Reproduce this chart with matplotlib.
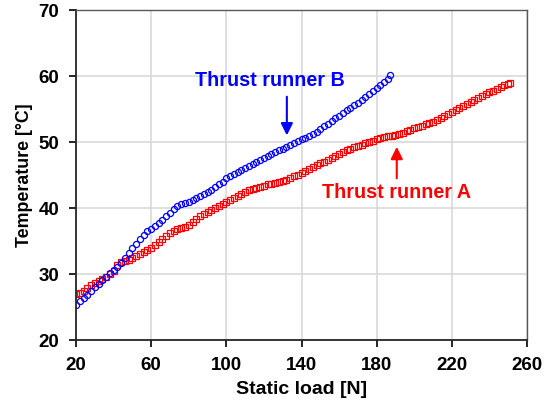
import matplotlib
matplotlib.use('Agg')
from matplotlib import pyplot as plt

plt.rcParams['font.family'] = ['Liberation Sans', 'DejaVu Sans']

# Thrust runner B (open circles)
load_b = [20, 22, 24, 26, 28, 30, 32, 34, 36, 38, 40, 42, 44, 46, 48, 50,
          52, 54, 56, 58, 60, 62, 64, 66, 68, 70, 72, 74, 76, 78, 80, 82,
          84, 86, 88, 90, 92, 94, 96, 98, 100, 102, 104, 106, 108, 110, 112,
          114, 116, 118, 120, 122, 124, 126, 128, 130, 132, 134, 136, 138,
          140, 142, 144, 146, 148, 150, 152, 154, 156, 158, 160, 162, 164,
          166, 168, 170, 172, 174, 176, 178, 180, 182, 184, 186, 187]
temp_b = [25.4, 25.9, 26.4, 26.9, 27.5, 28.0, 28.5, 29.1, 29.6, 30.1, 30.6,
          31.1, 31.7, 32.5, 33.2, 33.9, 34.6, 35.3, 35.9, 36.5, 36.9, 37.3,
          37.7, 38.2, 38.8, 39.3, 39.9, 40.3, 40.6, 40.8, 41.0, 41.2, 41.5,
          41.8, 42.1, 42.4, 42.8, 43.2, 43.6, 44.0, 44.5, 44.9, 45.2, 45.4,
          45.8, 46.1, 46.4, 46.7, 47.0, 47.3, 47.6, 47.9, 48.2, 48.5, 48.8,
          49.0, 49.3, 49.6, 49.9, 50.2, 50.4, 50.6, 50.9, 51.2, 51.6, 52.0,
          52.4, 52.8, 53.2, 53.6, 54.0, 54.4, 54.8, 55.2, 55.6, 56.0, 56.4,
          56.9, 57.3, 57.7, 58.2, 58.6, 59.1, 59.6, 60.2]

# Thrust runner A (open squares)
load_a = [20, 22, 24, 26, 28, 30, 32, 34, 36, 38, 40, 42, 44, 46, 48, 50,
          52, 54, 56, 58, 60, 62, 64, 66, 68, 70, 72, 74, 76, 78, 80, 82,
          84, 86, 88, 90, 92, 94, 96, 98, 100, 102, 104, 106, 108, 110, 112,
          114, 116, 118, 120, 122, 124, 126, 128, 130, 132, 134, 136, 138,
          140, 142, 144, 146, 148, 150, 152, 154, 156, 158, 160, 162, 164,
          166, 168, 170, 172, 174, 176, 178, 180, 182, 184, 186, 188, 190,
          192, 194, 196, 198, 200, 202, 204, 206, 208, 210, 212, 214, 216,
          218, 220, 222, 224, 226, 228, 230, 232, 234, 236, 238, 240, 242,
          244, 246, 248, 250, 251]
temp_a = [27.0, 27.2, 27.5, 27.9, 28.3, 28.6, 28.9, 29.2, 29.6, 30.0, 30.5,
          31.4, 31.9, 32.0, 32.2, 32.5, 32.8, 33.1, 33.4, 33.7, 34.0, 34.4,
          34.8, 35.3, 35.8, 36.2, 36.5, 36.8, 37.0, 37.2, 37.5, 37.9, 38.3,
          38.8, 39.1, 39.4, 39.7, 40.0, 40.4, 40.7, 41.0, 41.3, 41.6, 41.9,
          42.2, 42.5, 42.7, 42.9, 43.1, 43.2, 43.4, 43.6, 43.7, 43.8, 44.0,
          44.1, 44.3, 44.5, 44.8, 45.0, 45.3, 45.6, 45.9, 46.2, 46.5, 46.8,
          47.0, 47.3, 47.6, 47.9, 48.2, 48.5, 48.8, 49.0, 49.2, 49.4, 49.6,
          49.8, 50.0, 50.2, 50.4, 50.6, 50.8, 50.9, 51.0, 51.1, 51.2, 51.4,
          51.7, 51.9, 52.1, 52.3, 52.5, 52.7, 52.9, 53.1, 53.4, 53.7, 54.0,
          54.3, 54.6, 54.9, 55.2, 55.5, 55.8, 56.1, 56.4, 56.7, 57.0, 57.3,
          57.6, 57.8, 58.0, 58.3, 58.6, 58.8, 58.9]

xticks = [20, 60, 100, 140, 180, 220, 260]
yticks = [20, 30, 40, 50, 60, 70]

fig = plt.figure(figsize=(5.55, 4.04), dpi=100)
ax = fig.add_axes([0.137, 0.158, 0.8125, 0.817])

ax.plot(load_a, temp_a, linestyle='none', marker='s', markersize=4.8,
        markerfacecolor='none', markeredgecolor='#ff0000', markeredgewidth=0.9)
ax.plot(load_b, temp_b, linestyle='none', marker='o', markersize=4.4,
        markerfacecolor='none', markeredgecolor='#0000ff', markeredgewidth=0.9)

ax.set_xlim(20, 260)
ax.set_ylim(20, 70)
ax.set_xticks(xticks)
ax.set_yticks(yticks)
ax.grid(True, color='#d9d9d9', linewidth=1.2)
ax.set_axisbelow(True)

for side in ['left', 'bottom']:
    ax.spines[side].set_color('#262626')
    ax.spines[side].set_linewidth(1.3)
for side in ['top', 'right']:
    ax.spines[side].set_color('#595959')
    ax.spines[side].set_linewidth(1.0)

ax.tick_params(direction='out', length=5, width=1.2, labelsize=13.5, pad=7)
for lab in ax.get_xticklabels() + ax.get_yticklabels():
    lab.set_fontweight('bold')

ax.set_xlabel('Static load [N]', fontsize=14, fontweight='bold', labelpad=5)
ax.set_ylabel('Temperature [°C]', fontsize=12.8, fontweight='bold', labelpad=4)

# annotations
ax.text(83.3, 59.3, 'Thrust runner B', color='#0000ff', fontsize=14.2,
        fontweight='bold', ha='left', va='center')
ax.annotate('', xy=(132.2, 50.6), xytext=(132.2, 57.3),
            arrowprops=dict(arrowstyle='-|>', color='#0000ff', lw=1.5,
                            mutation_scale=18))
ax.text(150.9, 42.3, 'Thrust runner A', color='#ff0000', fontsize=14.2,
        fontweight='bold', ha='left', va='center')
ax.annotate('', xy=(190.7, 49.7), xytext=(190.7, 44.1),
            arrowprops=dict(arrowstyle='-|>', color='#ff0000', lw=1.5,
                            mutation_scale=18))

fig.savefig('out.png', dpi=100)
